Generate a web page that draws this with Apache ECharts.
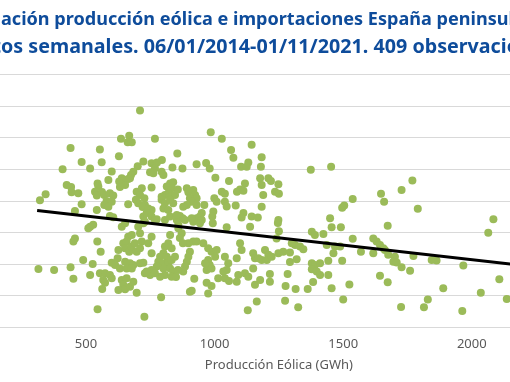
<!DOCTYPE html>
<html><head><meta charset="utf-8">
<script src="https://cdn.jsdelivr.net/npm/echarts@6/dist/echarts.min.js"></script>
<style>html,body{margin:0;padding:0;background:#fff}#c{width:510px;height:382px}</style>
</head><body><div id="c"></div>
<script>
const titleLine1 = 'Correlación producción eólica e importaciones España peninsular';
const titleLine2 = 'Datos semanales. 06/01/2014-01/11/2021. 409 observaciones';
const xAxisName = 'Producción Eólica (GWh)';
const xTicks = [0, 500, 1000, 1500, 2000, 2500];
const yTicks = [0, 100, 200, 300, 400, 500, 600, 700, 800];

// [producción eólica semanal (GWh), importaciones (GWh)]
const weeklyPoints = [
[710,686],[636,596],[668,606],[662,585],[678,585],[440,567],[554,562],[628,541],[483,523],[516,502],[561,522],[409,500],[600,493],[701,509],[684,492],[675,482],[664,469],[723,524],[639,471],[649,464],[629,461],[652,450],[632,444],[425,450],[442,444],[444,427],[470,424],[545,455],[548,445],[587,466],[535,429],[542,417],[562,428],[571,418],[593,424],[606,417],[580,399],[600,397],[571,387],[587,381],[697,429],[717,440],[710,418],[727,408],[321,402],[343,421],[483,389],[457,368],[542,371],[664,389],[703,392],[671,471],[694,403],[729,387],[720,380],[742,376],
[593,352],[606,348],[639,318],[652,329],[703,318],[723,329],[723,350],[509,313],[516,318],[528,324],[664,286],[678,292],[729,334],
[315,184],[376,181],[440,190],[451,153],[451,271],[457,281],[544,271],[557,239],[489,213],[526,200],[516,165],[554,171],[574,171],[567,149],[574,141],[593,165],[600,155],[563,121],[545,57],[600,204],[623,218],[613,197],[632,186],[626,244],[645,266],[658,271],[652,250],[668,239],[678,255],[690,266],[697,239],[710,297],[717,271],[710,250],[652,207],[671,202],[684,197],[658,186],[678,186],[710,202],[723,204],[639,149],[658,155],[645,134],[626,118],[652,120],[671,128],[684,144],[697,109],[729,171],[727,33],
[985,617],[1028,596],[768,596],[1144,577],[1064,561],[1073,536],[855,550],[1183,538],[755,519],[776,521],[795,529],[768,503],[749,490],[762,487],[794,492],[801,482],[836,505],[875,502],[930,516],[967,520],[981,502],[1103,508],[1131,521],[1125,508],[1180,508],[1003,473],[1056,463],[1118,455],[1099,436],[1087,429],[1112,432],[1177,471],[1183,450],[755,442],[827,455],[839,459],[814,445],[833,440],[820,424],[807,418],[794,413],[827,413],[846,418],[857,436],[892,440],[898,427],[917,434],[924,418],[930,408],[904,408],[911,397],[892,387],[878,381],[930,387],[1028,429],[1040,422],[999,408],[1008,397],[1040,397],[1047,382],[1082,385],[960,387],[755,371],[794,403],[807,392],[801,376],[820,371],[1112,361],[1189,418],[1183,381],[950,361],[995,366],[839,392],[827,403],
[991,350],[943,350],[930,345],[950,339],[917,334],[865,352],[876,345],[853,339],[775,342],[1105,347],[1138,318],[1047,316],[993,329],[736,361],[755,350],[768,339],[807,339],[827,350],[853,355],[885,339],[911,345],[943,329],[859,324],[872,297],[859,313],[1144,350],[755,286],[742,266],[755,234],
[898,266],[917,271],[930,271],[904,239],[898,223],[892,207],[885,192],[878,176],[956,266],[975,250],[988,239],[1008,244],[1002,223],[975,213],[981,197],[963,202],[969,181],[988,186],[1040,223],[1053,202],[1047,181],[1034,176],[1014,155],[1040,155],[1056,146],[1086,218],[1099,266],[1105,244],[1150,234],[1157,218],[1170,218],[1183,213],[1086,144],[1092,165],[1118,171],[1131,160],[1150,186],[1157,134],[1177,149],[1129,54],[1164,81],[921,153],[911,115],[904,112],[969,141],[975,107],[988,130],[792,95],
[827,292],[820,266],[807,255],[833,250],[801,234],[788,223],[814,223],[781,207],[801,202],[820,202],[833,213],[846,223],[775,192],[801,186],[827,186],[839,176],[807,165],[788,160],[833,160],[755,181],[749,165],[736,176],[768,171],[858,181],[850,159],[865,282],[877,266],
[1209,471],[1219,463],[1248,452],[1235,429],[1250,422],[1374,498],[1453,508],[1537,406],[1504,385],[1496,378],[1647,422],[1659,397],[1727,434],[1769,464],[1790,375],[1673,321],[1449,345],[1455,316],[1491,316],[1378,302],[1390,292],[1423,295],[1537,280],[1617,281],[1630,271],[1643,260],[1656,250],[1168,347],[1248,339],[1246,330],[1250,304],[1241,281],[1436,260],[1468,255],[1488,255],[1196,244],[1209,229],[1203,213],[1222,223],[1248,234],[1267,239],[1293,236],[1313,260],[1332,255],[1345,247],[1300,266],[1293,206],[1319,215],[1462,234],[1442,210],[1496,210],[1569,239],[1617,234],[1662,244],[1378,202],[1390,197],[1410,202],[1378,183],[1397,176],[1410,165],[1442,165],[1215,168],[1215,144],[1284,168],[1276,130],[1315,121],[1362,121],[1383,143],[1455,123],[1524,135],[1274,84],[1325,63],[1500,88],[1643,163],[1673,142],[1675,229],[1701,223],[1695,207],[1708,205],[1773,225],[1844,213],[1863,211],[1727,190],[1760,179],[1967,195],[1889,123],[2107,152],[2035,109],[2136,89],[1725,64],[1814,63],[1829,88],[1963,51],[2064,299],[2084,342]
];

// linear trend (endpoints)
const trendX = [310, 2300];
const trendY = [369, 186];

const chart = echarts.init(document.getElementById('c'), null, {renderer: 'canvas'});

const titleFamily = '"Noto Sans", sans-serif';
const mctx = document.createElement('canvas').getContext('2d');
function tw(t, fs) { mctx.font = 'bold ' + fs + 'px ' + titleFamily; return mctx.measureText(t).width; }
const cut1 = titleLine1.indexOf('ación');
const vis1 = titleLine1.slice(cut1, titleLine1.indexOf('peninsu') + 7);
const tfs1 = 18 * 508 / tw(vis1, 18);
const tx1 = 1 - tw(titleLine1.slice(0, cut1), tfs1);
const cut2 = titleLine2.indexOf('os ');
const vis2 = titleLine2.slice(cut2, titleLine2.indexOf('observaci') + 9);
const tfs2 = 18 * 506 / tw(vis2, 18);
const tx2 = 1 - tw(titleLine2.slice(0, cut2), tfs2);
const titleColor = '#0E4C9B';

chart.setOption({
  animation: false,
  backgroundColor: '#ffffff',
  grid: {left: -42.6, right: -90.4, top: 74.4, bottom: 54.8, containLabel: false, outerBoundsMode: 'none'},
  xAxis: {
    type: 'value', min: xTicks[0], max: xTicks[xTicks.length - 1], interval: xTicks[1] - xTicks[0],
    name: xAxisName, nameLocation: 'middle', nameGap: 32,
    nameTextStyle: {color: '#595959', fontSize: 13, fontFamily: 'Noto Sans'},
    axisLine: {show: true, lineStyle: {color: '#D9D9D9', width: 1}},
    axisTick: {show: false},
    splitLine: {show: false},
    axisLabel: {color: '#595959', fontSize: 13, fontFamily: 'Noto Sans', margin: 11, formatter: v => String(v)}
  },
  yAxis: {
    type: 'value', min: yTicks[0], max: yTicks[yTicks.length - 1], interval: yTicks[1] - yTicks[0],
    axisLine: {show: false}, axisTick: {show: false},
    splitLine: {show: true, lineStyle: {color: '#D9D9D9', width: 1}},
    axisLabel: {color: '#595959', fontSize: 13, formatter: v => String(v)}
  },
  graphic: [
    {type: 'text', x: tx1, y: 20, style: {text: titleLine1, font: 'bold ' + tfs1 + 'px ' + titleFamily, fill: titleColor, align: 'left', verticalAlign: 'middle'}},
    {type: 'text', x: tx2, y: 47.5, style: {text: titleLine2, font: 'bold ' + tfs2 + 'px ' + titleFamily, fill: titleColor, align: 'left', verticalAlign: 'middle'}}
  ],
  series: [
    {type: 'scatter', data: weeklyPoints, symbolSize: 8, itemStyle: {color: '#9BBB59', opacity: 1}, z: 2},
    {type: 'line', data: trendX.map((x, i) => [x, trendY[i]]), symbol: 'none', lineStyle: {color: '#000000', width: 3}, z: 3, silent: true}
  ]
});
</script>
</body></html>
